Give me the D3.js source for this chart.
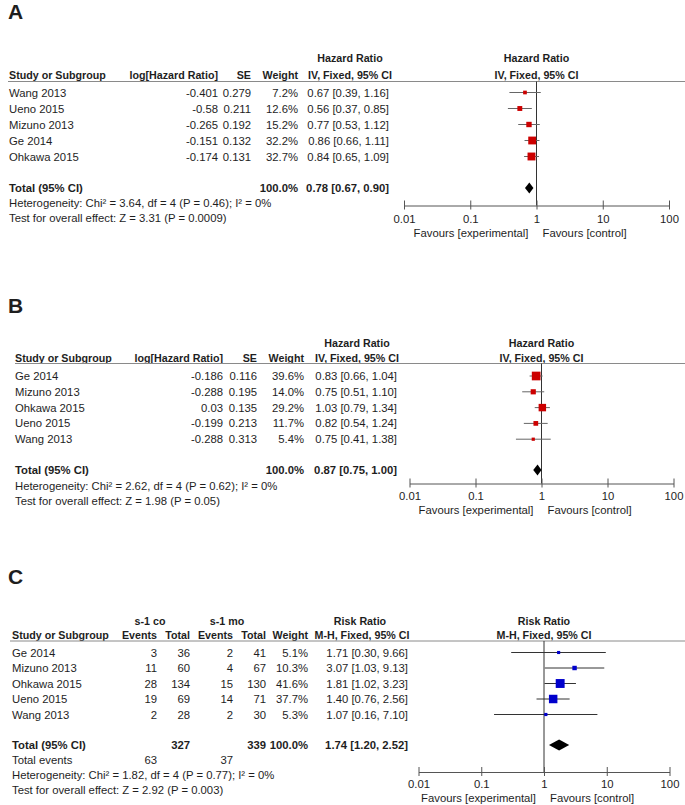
<!DOCTYPE html>
<html>
<head>
<meta charset="utf-8">
<script src="https://cdn.jsdelivr.net/npm/d3@7"></script>
<style>
  html, body { margin: 0; padding: 0; background: #fff; }
  svg { display: block; }
  text { font-family: "Liberation Sans", Arial, sans-serif; fill: #1e1e1e; }
</style>
</head>
<body>
<svg id="chart" width="685" height="805"></svg>
<script>
// ---------- Panel A data ----------
const studiesA = ["Wang 2013", "Ueno 2015", "Mizuno 2013", "Ge 2014", "Ohkawa 2015"];
const logHRA = ["-0.401", "-0.58", "-0.265", "-0.151", "-0.174"];
const seA = ["0.279", "0.211", "0.192", "0.132", "0.131"];
const weightA = [7.2, 12.6, 15.2, 32.2, 32.7];
const estA = [0.67, 0.56, 0.77, 0.86, 0.84];
const lowA = [0.39, 0.37, 0.53, 0.66, 0.65];
const highA = [1.16, 0.85, 1.12, 1.11, 1.09];
const totalA = [0.78, 0.67, 0.90];
const hetA = "Heterogeneity: Chi\u00B2 = 3.64, df = 4 (P = 0.46); I\u00B2 = 0%";
const testA = "Test for overall effect: Z = 3.31 (P = 0.0009)";

// ---------- Panel B data ----------
const studiesB = ["Ge 2014", "Mizuno 2013", "Ohkawa 2015", "Ueno 2015", "Wang 2013"];
const logHRB = ["-0.186", "-0.288", "0.03", "-0.199", "-0.288"];
const seB = ["0.116", "0.195", "0.135", "0.213", "0.313"];
const weightB = [39.6, 14.0, 29.2, 11.7, 5.4];
const estB = [0.83, 0.75, 1.03, 0.82, 0.75];
const lowB = [0.66, 0.51, 0.79, 0.54, 0.41];
const highB = [1.04, 1.10, 1.34, 1.24, 1.38];
const totalB = [0.87, 0.75, 1.00];
const hetB = "Heterogeneity: Chi\u00B2 = 2.62, df = 4 (P = 0.62); I\u00B2 = 0%";
const testB = "Test for overall effect: Z = 1.98 (P = 0.05)";

// ---------- Panel C data ----------
const studiesC = ["Ge 2014", "Mizuno 2013", "Ohkawa 2015", "Ueno 2015", "Wang 2013"];
const eventsCo = [3, 11, 28, 19, 2];
const totalCo = [36, 60, 134, 69, 28];
const eventsMo = [2, 4, 15, 14, 2];
const totalMo = [41, 67, 130, 71, 30];
const weightC = [5.1, 10.3, 41.6, 37.7, 5.3];
const estC = [1.71, 3.07, 1.81, 1.40, 1.07];
const lowC = [0.30, 1.03, 1.02, 0.76, 0.16];
const highC = [9.66, 9.13, 3.23, 2.56, 7.10];
const totalC = [1.74, 1.20, 2.52];
const totalsC = [327, 339];
const totalEventsC = [63, 37];
const hetC = "Heterogeneity: Chi\u00B2 = 1.82, df = 4 (P = 0.77); I\u00B2 = 0%";
const testC = "Test for overall effect: Z = 2.92 (P = 0.003)";

// ---------- Axis ----------
const tickValues = [0.01, 0.1, 1, 10, 100];
const tickLabels = ["0.01", "0.1", "1", "10", "100"];

const svg = d3.select("#chart");
const FS = 11.3;      // body text
const FSH = 10.7;     // bold column headers
const f2 = d3.format(".2f");

function txt(g, x, y, s, anchor, bold, size) {
  return g.append("text").attr("x", x).attr("y", y)
    .attr("text-anchor", anchor || "start")
    .attr("font-size", size || FS)
    .attr("font-weight", bold ? "bold" : "normal")
    .text(s);
}

function drawForest(p) {
  const g = svg.append("g");
  // Panel letter
  txt(g, p.letterX, p.letterY, p.letter, "start", true, 21);

  const x = d3.scaleLog().domain([0.01, 100]).range([p.x0, p.x1]);
  const x1 = x(1);

  // header texts
  p.headers.forEach(h => txt(g, h.x, h.y, h.t, h.a, true, FSH));
  txt(g, x1, p.hdr1Y, p.plotHdr1, "middle", true, FSH);
  txt(g, x1, p.hdr2Y, p.plotHdr2, "middle", true, FSH);

  // header line
  g.append("line").attr("x1", p.lineX).attr("x2", 685)
    .attr("y1", p.lineY).attr("y2", p.lineY)
    .attr("stroke", "#8a8a8a").attr("stroke-width", 1);

  // rows text
  p.studies.forEach((s, i) => {
    const y = p.rowY(i) + 4;
    txt(g, p.nameX, y, s, "start");
    p.cols.forEach(c => txt(g, c.x, y, c.vals[i], "end"));
    txt(g, p.ciX, y, f2(p.est[i]) + " [" + f2(p.low[i]) + ", " + f2(p.high[i]) + "]", "end");
  });

  // total row
  txt(g, p.nameX, p.totalY + 4, "Total (95% CI)", "start", true);
  p.totalCols.forEach(c => txt(g, c.x, p.totalY + 4, c.t, "end", true));
  txt(g, p.ciX, p.totalY + 4,
      f2(p.total[0]) + " [" + f2(p.total[1]) + ", " + f2(p.total[2]) + "]", "end", true);
  if (p.extra) p.extra(g);
  txt(g, p.nameX, p.hetY + 4, p.het, "start");
  txt(g, p.nameX, p.testY + 4, p.test, "start");

  // vertical line of no effect
  g.append("line").attr("x1", x1).attr("x2", x1)
    .attr("y1", p.lineY).attr("y2", p.axisY)
    .attr("stroke", "#333").attr("stroke-width", 1);

  // CI lines and squares
  p.studies.forEach((s, i) => {
    const y = p.rowY(i);
    g.append("line").attr("x1", x(p.low[i])).attr("x2", x(p.high[i]))
      .attr("y1", y).attr("y2", y)
      .attr("stroke", p.ciColor).attr("stroke-width", 1);
    const side = Math.max(3, 1.38 * Math.sqrt(p.weight[i]));
    g.append("rect").attr("x", x(p.est[i]) - side / 2).attr("y", y - side / 2)
      .attr("width", side).attr("height", side).attr("fill", p.markColor);
  });

  // diamond
  const ty = p.totalY, dh = 5.5;
  g.append("path")
    .attr("d", `M${x(p.total[1])},${ty} L${x(p.total[0])},${ty - dh} L${x(p.total[2])},${ty} L${x(p.total[0])},${ty + dh} Z`)
    .attr("fill", "#000");

  // axis
  const ax = d3.axisBottom(x).tickValues(tickValues)
    .tickFormat((d, i) => tickLabels[i]).tickSizeOuter(0).tickSizeInner(0).tickPadding(0);
  const axG = g.append("g").attr("transform", `translate(0,${p.axisY})`).call(ax);
  axG.select(".domain").attr("stroke", "#555").attr("stroke-width", 1);
  axG.selectAll(".tick line").attr("y1", -5).attr("y2", 4).attr("stroke", "#555");
  axG.selectAll(".tick text").attr("y", p.tickLabY - p.axisY + 4).attr("dy", null)
    .attr("font-size", FS).attr("font-family", "'Liberation Sans', Arial, sans-serif")
    .attr("fill", "#1e1e1e");

  txt(g, x1 - 8, p.favY + 4, "Favours [experimental]", "end");
  txt(g, x1 + 6, p.favY + 4, "Favours [control]", "start");
}

// ---------- Panel A ----------
drawForest({
  letter: "A", letterX: 8, letterY: 19,
  x0: 404, x1: 669,
  lineX: 8, lineY: 81.5,
  hdr1Y: 62, hdr2Y: 79,
  plotHdr1: "Hazard Ratio", plotHdr2: "IV, Fixed, 95% CI",
  headers: [
    { x: 350, y: 62, t: "Hazard Ratio", a: "middle" },
    { x: 9, y: 79, t: "Study or Subgroup", a: "start" },
    { x: 218, y: 79, t: "log[Hazard Ratio]", a: "end" },
    { x: 251, y: 79, t: "SE", a: "end" },
    { x: 298, y: 79, t: "Weight", a: "end" },
    { x: 350, y: 79, t: "IV, Fixed, 95% CI", a: "middle" }
  ],
  nameX: 9,
  studies: studiesA,
  rowY: i => 92.5 + 16 * i,
  cols: [
    { x: 218, vals: logHRA },
    { x: 251, vals: seA },
    { x: 298, vals: weightA.map(w => w.toFixed(1) + "%") }
  ],
  ciX: 389,
  est: estA, low: lowA, high: highA, weight: weightA, total: totalA,
  totalY: 188,
  totalCols: [{ x: 298, t: "100.0%" }],
  hetY: 203, testY: 218, het: hetA, test: testA,
  axisY: 205.5, tickLabY: 219, favY: 233,
  ciColor: "#666", markColor: "#cc0000"
});

// ---------- Panel B ----------
drawForest({
  letter: "B", letterX: 8, letterY: 313,
  x0: 409.5, x1: 673.5,
  lineX: 15, lineY: 363.5,
  hdr1Y: 346.5, hdr2Y: 362,
  plotHdr1: "Hazard Ratio", plotHdr2: "IV, Fixed, 95% CI",
  headers: [
    { x: 357, y: 346.5, t: "Hazard Ratio", a: "middle" },
    { x: 15, y: 362, t: "Study or Subgroup", a: "start" },
    { x: 223, y: 362, t: "log[Hazard Ratio]", a: "end" },
    { x: 257, y: 362, t: "SE", a: "end" },
    { x: 304, y: 362, t: "Weight", a: "end" },
    { x: 357, y: 362, t: "IV, Fixed, 95% CI", a: "middle" }
  ],
  nameX: 15,
  studies: studiesB,
  rowY: i => 376 + 15.8 * i,
  cols: [
    { x: 223, vals: logHRB },
    { x: 257, vals: seB },
    { x: 304, vals: weightB.map(w => w.toFixed(1) + "%") }
  ],
  ciX: 397,
  est: estB, low: lowB, high: highB, weight: weightB, total: totalB,
  totalY: 470,
  totalCols: [{ x: 304, t: "100.0%" }],
  hetY: 486, testY: 501, het: hetB, test: testB,
  axisY: 483.5, tickLabY: 495.5, favY: 509.5,
  ciColor: "#666", markColor: "#cc0000"
});

// ---------- Panel C ----------
drawForest({
  letter: "C", letterX: 8, letterY: 584,
  x0: 418.5, x1: 669.5,
  lineX: 10, lineY: 641,
  hdr1Y: 625, hdr2Y: 639,
  plotHdr1: "Risk Ratio", plotHdr2: "M-H, Fixed, 95% CI",
  headers: [
    { x: 150, y: 625, t: "s-1 co", a: "middle" },
    { x: 227, y: 625, t: "s-1 mo", a: "middle" },
    { x: 360, y: 625, t: "Risk Ratio", a: "middle" },
    { x: 12, y: 639, t: "Study or Subgroup", a: "start" },
    { x: 157, y: 639, t: "Events", a: "end" },
    { x: 190, y: 639, t: "Total", a: "end" },
    { x: 233, y: 639, t: "Events", a: "end" },
    { x: 266, y: 639, t: "Total", a: "end" },
    { x: 308, y: 639, t: "Weight", a: "end" },
    { x: 362, y: 639, t: "M-H, Fixed, 95% CI", a: "middle" }
  ],
  nameX: 12,
  studies: studiesC,
  rowY: i => 652.5 + 15.5 * i,
  cols: [
    { x: 157, vals: eventsCo.map(String) },
    { x: 190, vals: totalCo.map(String) },
    { x: 233, vals: eventsMo.map(String) },
    { x: 266, vals: totalMo.map(String) },
    { x: 308, vals: weightC.map(w => w.toFixed(1) + "%") }
  ],
  ciX: 408,
  est: estC, low: lowC, high: highC, weight: weightC, total: totalC,
  totalY: 745,
  totalCols: [
    { x: 190, t: String(totalsC[0]) },
    { x: 266, t: String(totalsC[1]) },
    { x: 308, t: "100.0%" }
  ],
  extra: g => {
    txt(g, 12, 764, "Total events", "start");
    txt(g, 157, 764, String(totalEventsC[0]), "end");
    txt(g, 233, 764, String(totalEventsC[1]), "end");
  },
  hetY: 775, testY: 790, het: hetC, test: testC,
  axisY: 772, tickLabY: 784, favY: 798,
  ciColor: "#333", markColor: "#0000cc"
});
</script>
</body>
</html>
